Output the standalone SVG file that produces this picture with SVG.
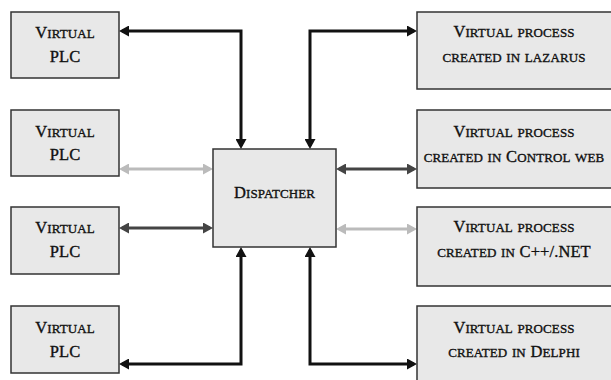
<svg xmlns="http://www.w3.org/2000/svg" width="611" height="380" viewBox="0 0 611 380">
  <style>
    .box { fill: #e8e8e8; stroke: #333; stroke-width: 1.5; }
    .lbl { font-family: "Liberation Serif", "DejaVu Serif", serif; font-size: 18px; font-variant: small-caps; fill: #111; text-anchor: middle; letter-spacing: 0.1px; stroke: #111; stroke-width: 0.35; }
    .cap { font-size: 16.5px; }
    .con { fill: none; stroke-width: 3; }
    .black { stroke: #111; marker-start: url(#ahBlack); marker-end: url(#ahBlack); }
    .dark { stroke: #444; marker-start: url(#ahDark); marker-end: url(#ahDark); }
    .light { stroke: #bbb; marker-start: url(#ahLight); marker-end: url(#ahLight); }
  </style>
  <defs>
    <marker id="ahBlack" markerUnits="userSpaceOnUse" markerWidth="10" markerHeight="11" refX="7" refY="5.5" orient="auto-start-reverse">
      <path d="M0,0 L10,5.5 L0,11 z" fill="#111"/>
    </marker>
    <marker id="ahDark" markerUnits="userSpaceOnUse" markerWidth="10" markerHeight="11" refX="7" refY="5.5" orient="auto-start-reverse">
      <path d="M0,0 L10,5.5 L0,11 z" fill="#444"/>
    </marker>
    <marker id="ahLight" markerUnits="userSpaceOnUse" markerWidth="10" markerHeight="11" refX="7" refY="5.5" orient="auto-start-reverse">
      <path d="M0,0 L10,5.5 L0,11 z" fill="#bbb"/>
    </marker>
  </defs>

  <rect width="611" height="380" fill="#fff"/>

  <!-- connectors -->
  <g id="connectors">
    <path class="con black" d="M122,31 H241 V146"/>
    <path class="con light" d="M122,169 H210"/>
    <path class="con dark" d="M122,228 H210"/>
    <path class="con black" d="M122,364 H241 V250"/>
    <path class="con black" d="M310,146 V31 H414"/>
    <path class="con dark" d="M339,169 H414"/>
    <path class="con light" d="M339,229 H414"/>
    <path class="con black" d="M310,250 V364 H414"/>
  </g>

  <!-- virtual PLCs -->
  <g id="plc1">
    <rect class="box" x="11" y="12" width="108" height="66"/>
    <text class="lbl" x="65" y="38"><tspan class="cap">V</tspan>irtual</text>
    <text class="lbl" x="65" y="62"><tspan class="cap">PLC</tspan></text>
  </g>
  <g id="plc2">
    <rect class="box" x="11" y="110" width="108" height="66"/>
    <text class="lbl" x="65" y="136.5"><tspan class="cap">V</tspan>irtual</text>
    <text class="lbl" x="65" y="160"><tspan class="cap">PLC</tspan></text>
  </g>
  <g id="plc3">
    <rect class="box" x="11" y="207" width="108" height="67"/>
    <text class="lbl" x="65" y="233"><tspan class="cap">V</tspan>irtual</text>
    <text class="lbl" x="65" y="256.5"><tspan class="cap">PLC</tspan></text>
  </g>
  <g id="plc4">
    <rect class="box" x="11" y="306" width="108" height="67"/>
    <text class="lbl" x="65" y="333"><tspan class="cap">V</tspan>irtual</text>
    <text class="lbl" x="65" y="356.5"><tspan class="cap">PLC</tspan></text>
  </g>

  <!-- dispatcher -->
  <g id="dispatcher">
    <rect class="box" x="213" y="149" width="123" height="98"/>
    <text class="lbl" x="274.5" y="198"><tspan class="cap">D</tspan>ispatcher</text>
  </g>

  <!-- virtual processes -->
  <g id="proc-lazarus">
    <rect class="box" x="417" y="12" width="200" height="77"/>
    <text class="lbl" x="514" y="37"><tspan class="cap">V</tspan>irtual process</text>
    <text class="lbl" x="514" y="61.5">created in lazarus</text>
  </g>
  <g id="proc-controlweb">
    <rect class="box" x="417" y="110" width="200" height="78"/>
    <text class="lbl" x="514" y="136.5"><tspan class="cap">V</tspan>irtual process</text>
    <text class="lbl" x="514" y="162">created in <tspan class="cap">C</tspan>ontrol web</text>
  </g>
  <g id="proc-cpp">
    <rect class="box" x="417" y="207" width="200" height="79"/>
    <text class="lbl" x="514" y="232"><tspan class="cap">V</tspan>irtual process</text>
    <text class="lbl" x="514" y="256.5">created in <tspan class="cap">C++/.NET</tspan></text>
  </g>
  <g id="proc-delphi">
    <rect class="box" x="417" y="306" width="200" height="90"/>
    <text class="lbl" x="514" y="333"><tspan class="cap">V</tspan>irtual process</text>
    <text class="lbl" x="514" y="356.5">created in <tspan class="cap">D</tspan>elphi</text>
  </g>
</svg>
